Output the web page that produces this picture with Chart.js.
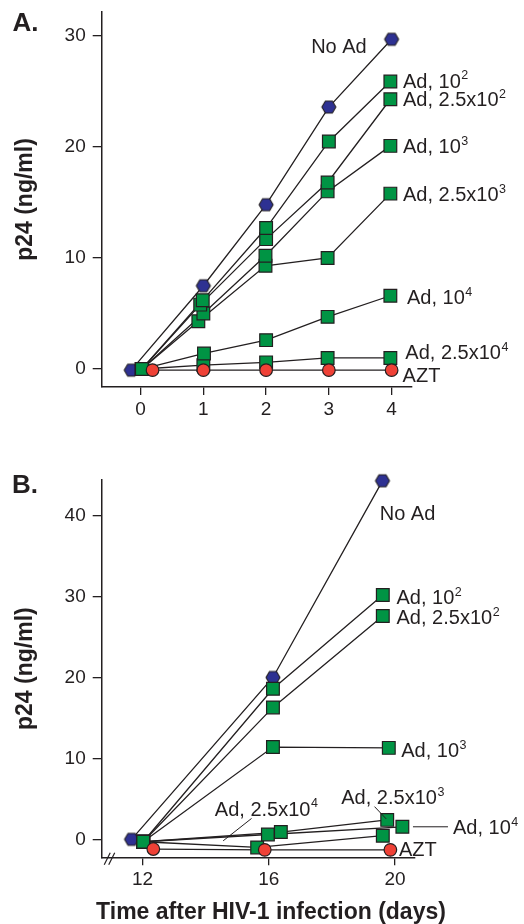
<!DOCTYPE html>
<html>
<head>
<meta charset="utf-8">
<script src="https://cdn.jsdelivr.net/npm/chart.js@4.4.1/dist/chart.umd.min.js"></script>
<style>
  html, body { margin: 0; padding: 0; background: #fff; }
  .panel { position: absolute; left: 0; width: 524px; }
  #wrapA { top: 0; height: 460px; }
  #wrapB { top: 460px; height: 464px; }
</style>
</head>
<body>
<div class="panel" id="wrapA"><canvas id="chartA"></canvas></div>
<div class="panel" id="wrapB"><canvas id="chartB"></canvas></div>
<script>
// ========== DATA: PANEL A (days 0-4) ==========
const xTicksA = [0, 1, 2, 3, 4];
const yTicksA = [0, 10, 20, 30];

const noAdA_x = [-0.15, 1.0, 2.0, 3.0, 4.0];
const noAdA = [-0.1, 7.5, 14.8, 23.6, 29.7];
const ad1e2A_x = [0.02, 0.99, 2.0, 3.0, 3.98];
const ad1e2A = [0, 6.2, 12.7, 20.5, 25.9];
const ad25e2A_x = [0.02, 0.95, 2.0, 2.98, 3.98];
const ad25e2A = [0, 5.8, 11.7, 16.8, 24.3];
const ad1e3A_x = [0.02, 1.0, 1.99, 2.98, 3.98];
const ad1e3A = [0, 5.0, 10.2, 16.0, 20.1];
const ad25e3A_x = [0.02, 0.92, 1.99, 2.98, 3.98];
const ad25e3A = [0, 4.3, 9.3, 10.0, 15.8];
const ad1e4A_x = [0.02, 1.01, 2.0, 2.98, 3.98];
const ad1e4A = [0, 1.4, 2.6, 4.7, 6.6];
const ad25e4A_x = [0.02, 1.0, 2.0, 2.98, 3.98];
const ad25e4A = [0, 0.35, 0.6, 1.0, 1.0];
const aztA_x = [0.19, 1.0, 2.0, 3.0, 4.0];
const aztA = [-0.1, -0.1, -0.1, -0.1, -0.1];

// ========== DATA: PANEL B (days 12-20) ==========
const xTicksB = [12, 16, 20];
const yTicksB = [0, 10, 20, 30, 40];

const noAdB_x = [11.65, 16.13, 19.6];
const noAdB = [0, 20.0, 44.3];
const ad1e2B_x = [12.02, 16.13, 19.61];
const ad1e2B = [-0.3, 18.6, 30.2];
const ad25e2B_x = [12.02, 16.13, 19.61];
const ad25e2B = [-0.3, 16.3, 27.6];
const ad1e3B_x = [12.02, 16.13, 19.8];
const ad1e3B = [-0.3, 11.4, 11.3];
const ad25e3B_x = [12.02, 16.38, 19.75];
const ad25e3B = [-0.3, 0.9, 2.4];
const ad1e4B_x = [12.02, 15.97, 20.23];
const ad1e4B = [-0.3, 0.6, 1.55];
const ad25e4B_x = [12.02, 15.63, 19.61];
const ad25e4B = [-0.3, -1.0, 0.45];
const aztB_x = [12.34, 15.87, 19.85];
const aztB = [-1.2, -1.3, -1.3];

// ========== STYLE ==========
const INK = "#231f20";
const NAVY = "#2e3192";
const GREEN = "#009444";
const RED = "#ef4136";
const FONT = "'Liberation Sans', Arial, Helvetica, sans-serif";

// hexagon marker (no built-in pointStyle for it)
function makeHexagon(r) {
  const c = document.createElement("canvas");
  const s = Math.ceil(r * 2 + 4);
  c.width = s;
  c.height = s;
  const g = c.getContext("2d");
  g.beginPath();
  for (let k = 0; k < 6; k++) {
    const a = (Math.PI / 3) * k;
    const px = s / 2 + r * Math.cos(a);
    const py = s / 2 + r * Math.sin(a);
    if (k === 0) g.moveTo(px, py);
    else g.lineTo(px, py);
  }
  g.closePath();
  g.fillStyle = NAVY;
  g.fill();
  g.lineWidth = 1.1;
  g.strokeStyle = INK;
  g.stroke();
  return c;
}
const hexImg = makeHexagon(7);

const markers = {
  hex: { pointStyle: hexImg, pointRadius: 7, order: 3 },
  square: { pointStyle: "rect", pointRadius: 9, pointBackgroundColor: GREEN, order: 2 },
  circle: { pointStyle: "circle", pointRadius: 6.3, pointBackgroundColor: RED, order: 1 },
};

function toPoints(xs, ys) {
  return xs.map((x, i) => ({ x: x, y: ys[i] }));
}

// lines first (under), then the markers on top of every line
function buildDatasets(series) {
  const lines = series.map((s) => ({
    label: s.name,
    data: toPoints(s.x, s.y),
    borderColor: INK,
    borderWidth: 1.3,
    pointRadius: 0,
    tension: 0,
    order: 10,
    clip: false,
  }));
  const marks = series.map((s) => ({
    label: s.name,
    data: toPoints(s.x, s.y),
    showLine: false,
    pointBorderColor: INK,
    pointBorderWidth: 1.2,
    clip: false,
    ...markers[s.marker],
  }));
  return lines.concat(marks);
}

// text with an optional superscript, e.g. "Ad, 10" + "2"
function drawLabel(ctx, x, y, text, sup, align) {
  ctx.font = "20px " + FONT;
  const w1 = ctx.measureText(text).width;
  ctx.font = "12.5px " + FONT;
  const w2 = sup ? ctx.measureText(sup).width + 0.5 : 0;
  let left = align === "center" ? x - (w1 + w2) / 2 : x;
  ctx.textAlign = "left";
  ctx.textBaseline = "alphabetic";
  ctx.fillStyle = INK;
  ctx.font = "20px " + FONT;
  ctx.fillText(text, left, y + 7.2);
  if (sup) {
    ctx.font = "12.5px " + FONT;
    ctx.fillText(sup, left + w1 + 0.5, y - 1);
  }
}

function notesPlugin(nSeries, notes, extra) {
  return {
    id: "notes",
    afterDraw(chart) {
      const ctx = chart.ctx;
      ctx.save();
      notes.forEach((n) => {
        const pts = chart.getDatasetMeta(nSeries + n.s).data;
        const el = pts[n.p === undefined ? pts.length - 1 : n.p];
        if (n.lead) {
          ctx.beginPath();
          ctx.moveTo(el.x + n.lead[0], el.y + n.lead[1]);
          ctx.lineTo(el.x + n.lead[2], el.y + n.lead[3]);
          ctx.strokeStyle = INK;
          ctx.lineWidth = 1;
          ctx.stroke();
        }
        drawLabel(ctx, el.x + n.dx, el.y + n.dy, n.text, n.sup, n.align);
      });
      if (extra) extra(chart, ctx);
      ctx.restore();
    },
  };
}

function axisOptions(min, max, ticks, tickLen, pad, fit) {
  return {
    type: "linear",
    min: min,
    max: max,
    afterBuildTicks: (s) => {
      s.ticks = ticks.map((v) => ({ value: v }));
    },
    afterFit: (s) => {
      fit(s);
      // keep the chart area exactly where the layout padding puts it
      s.paddingTop = 0;
      s.paddingBottom = 0;
      s.paddingLeft = 0;
      s.paddingRight = 0;
    },
    grid: {
      drawOnChartArea: false,
      drawTicks: true,
      tickLength: tickLen,
      color: INK,
      lineWidth: 1.3,
    },
    border: { color: INK, width: 1.5 },
    ticks: {
      color: INK,
      padding: pad,
      font: { family: FONT, size: 19 },
    },
  };
}

function yTitle() {
  return {
    display: true,
    text: "p24 (ng/ml)",
    color: INK,
    font: { family: FONT, size: 23, weight: "bold" },
    padding: { top: 12, bottom: 0 },
  };
}

function makeChart(id, series, notes, opts) {
  const n = series.length;
  const yAxis = axisOptions(opts.yMin, opts.yMax, opts.yTicks, 9, 7, (s) => {
    s.width = 101.7;
  });
  yAxis.title = yTitle();
  return new Chart(document.getElementById(id), {
    type: "line",
    data: { datasets: buildDatasets(series) },
    options: {
      responsive: true,
      maintainAspectRatio: false,
      animation: false,
      events: [],
      devicePixelRatio: 1,
      layout: { padding: opts.padding },
      plugins: { legend: { display: false }, tooltip: { enabled: false } },
      scales: {
        x: axisOptions(opts.xMin, opts.xMax, opts.xTicks, 8, 3, (s) => {
          s.height = 50;
        }),
        y: yAxis,
      },
    },
    plugins: [notesPlugin(n, notes, opts.extra)],
  });
}

// ========== PANEL A ==========
const seriesA = [
  { name: "No Ad", x: noAdA_x, y: noAdA, marker: "hex" },
  { name: "Ad, 10^2", x: ad1e2A_x, y: ad1e2A, marker: "square" },
  { name: "Ad, 2.5x10^2", x: ad25e2A_x, y: ad25e2A, marker: "square" },
  { name: "Ad, 10^3", x: ad1e3A_x, y: ad1e3A, marker: "square" },
  { name: "Ad, 2.5x10^3", x: ad25e3A_x, y: ad25e3A, marker: "square" },
  { name: "Ad, 10^4", x: ad1e4A_x, y: ad1e4A, marker: "square" },
  { name: "Ad, 2.5x10^4", x: ad25e4A_x, y: ad25e4A, marker: "square" },
  { name: "AZT", x: aztA_x, y: aztA, marker: "circle" },
];

const notesA = [
  { s: 0, text: "No Ad", dx: -52.7, dy: 6.4, align: "center" },
  { s: 1, text: "Ad, 10", sup: "2", dx: 12.6, dy: -1 },
  { s: 2, text: "Ad, 2.5x10", sup: "2", dx: 12.6, dy: 0 },
  { s: 3, text: "Ad, 10", sup: "3", dx: 12.6, dy: 0 },
  { s: 4, text: "Ad, 2.5x10", sup: "3", dx: 12.6, dy: 0 },
  { s: 5, text: "Ad, 10", sup: "4", dx: 16.6, dy: 1.5 },
  { s: 6, text: "Ad, 2.5x10", sup: "4", dx: 15, dy: -6 },
  { s: 7, text: "AZT", dx: 11, dy: 5 },
];

makeChart("chartA", seriesA, notesA, {
  xMin: -0.62, xMax: 4.32, xTicks: xTicksA,
  yMin: -1.62, yMax: 32.16, yTicks: yTicksA,
  padding: { left: 0, top: 12, right: 112.3, bottom: 23 },
  extra: (chart, ctx) => {
    ctx.font = "bold 26px " + FONT;
    ctx.fillStyle = INK;
    ctx.textAlign = "left";
    ctx.textBaseline = "alphabetic";
    ctx.fillText("A.", 12.5, 31);
  },
});

// ========== PANEL B ==========
const seriesB = [
  { name: "No Ad", x: noAdB_x, y: noAdB, marker: "hex" },
  { name: "Ad, 10^2", x: ad1e2B_x, y: ad1e2B, marker: "square" },
  { name: "Ad, 2.5x10^2", x: ad25e2B_x, y: ad25e2B, marker: "square" },
  { name: "Ad, 10^3", x: ad1e3B_x, y: ad1e3B, marker: "square" },
  { name: "Ad, 2.5x10^3", x: ad25e3B_x, y: ad25e3B, marker: "square" },
  { name: "Ad, 10^4", x: ad1e4B_x, y: ad1e4B, marker: "square" },
  { name: "Ad, 2.5x10^4", x: ad25e4B_x, y: ad25e4B, marker: "square" },
  { name: "AZT", x: aztB_x, y: aztB, marker: "circle" },
];

const notesB = [
  { s: 0, text: "No Ad", dx: 25, dy: 31.7, align: "center" },
  { s: 1, text: "Ad, 10", sup: "2", dx: 13.7, dy: 1.7 },
  { s: 2, text: "Ad, 2.5x10", sup: "2", dx: 13.7, dy: 0.7 },
  { s: 3, text: "Ad, 10", sup: "3", dx: 12.4, dy: 2 },
  { s: 4, text: "Ad, 2.5x10", sup: "3", dx: 5.6, dy: -23.3, align: "center", lead: [-12.7, -13.3, -1, -1] },
  { s: 5, text: "Ad, 10", sup: "4", dx: 50.6, dy: 0, lead: [10.6, 0, 45.6, 0] },
  { s: 6, p: 1, text: "Ad, 2.5x10", sup: "4", dx: -42.3, dy: -39, lead: [-5.6, -29, -34, -6.6] },
  { s: 7, text: "AZT", dx: 8.6, dy: -1 },
];

makeChart("chartB", seriesB, notesB, {
  xMin: 10.705, xMax: 20.63, xTicks: xTicksB,
  yMin: -2.22, yMax: 44.4, yTicks: yTicksB,
  padding: { left: 0, top: 20, right: 109, bottom: 16.7 },
  extra: (chart, ctx) => {
    const area = chart.chartArea;
    ctx.fillStyle = INK;
    ctx.textBaseline = "alphabetic";
    ctx.textAlign = "left";
    ctx.font = "bold 26px " + FONT;
    ctx.fillText("B.", 12, 32.7);
    // axis break marks
    ctx.strokeStyle = INK;
    ctx.lineWidth = 1.2;
    [2.5, 7].forEach((o) => {
      ctx.beginPath();
      ctx.moveTo(area.left + o, area.bottom + 7.5);
      ctx.lineTo(area.left + o + 6, area.bottom - 4.5);
      ctx.stroke();
    });
    // x axis title, sits right of the axis centre in the original
    ctx.font = "bold 23px " + FONT;
    ctx.textAlign = "center";
    ctx.textBaseline = "middle";
    ctx.fillText("Time after HIV-1 infection (days)", 271, 453);
  },
});
</script>
</body>
</html>
